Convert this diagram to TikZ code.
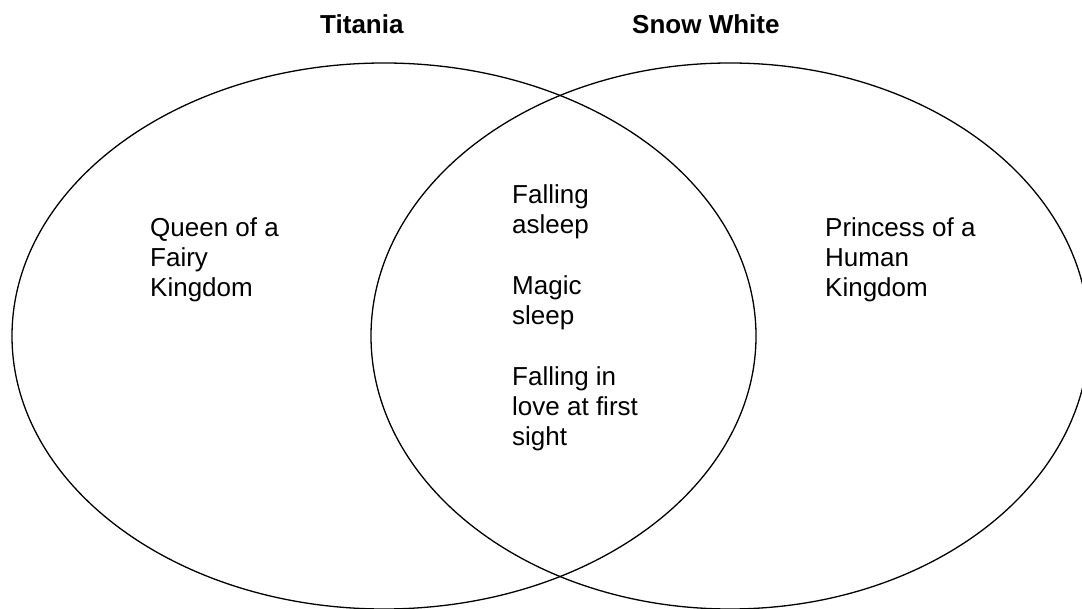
\documentclass[tikz,border=0pt]{standalone}
\usepackage{fontspec}
\setmainfont{Liberation Sans}
\usetikzlibrary{shapes.geometric,positioning}

\begin{document}
\begin{tikzpicture}[
  x=1pt, y=-1pt,
  set/.style={ellipse, draw=black, line width=1.3pt, inner sep=0pt},
  ttl/.style={anchor=base west, inner sep=0pt, font=\fontsize{26}{30}\selectfont\bfseries},
  lbl/.style={anchor=base west, inner sep=0pt, align=left, font=\fontsize{26}{30}\selectfont}
]
  \useasboundingbox (0,0) rectangle (1082,609);
  % the two sets
  \node[set, minimum width=744pt, minimum height=546pt] (titaniaset) at (384,336) {};
  \node[set, minimum width=718pt, minimum height=546pt] (snowset) at (730,336) {};
  % titles
  \node[ttl] (titania) at (320,34) {Titania};
  \node[ttl] (snowwhite) at (632,34) {Snow White};
  % texts in the sets (anchored at the last line)
  \node[lbl] (fairy) at (150,297) {Queen of a\\Fairy\\Kingdom};
  \node[lbl] (human) at (825,297) {Princess of a\\Human\\Kingdom};
  \node[lbl] (asleep) at (512,234) {Falling\\asleep};
  \node[lbl] (magic) at (512,325) {Magic\\sleep};
  \node[lbl] (love) at (512,446) {Falling in\\love at first\\sight};
\end{tikzpicture}
\end{document}
